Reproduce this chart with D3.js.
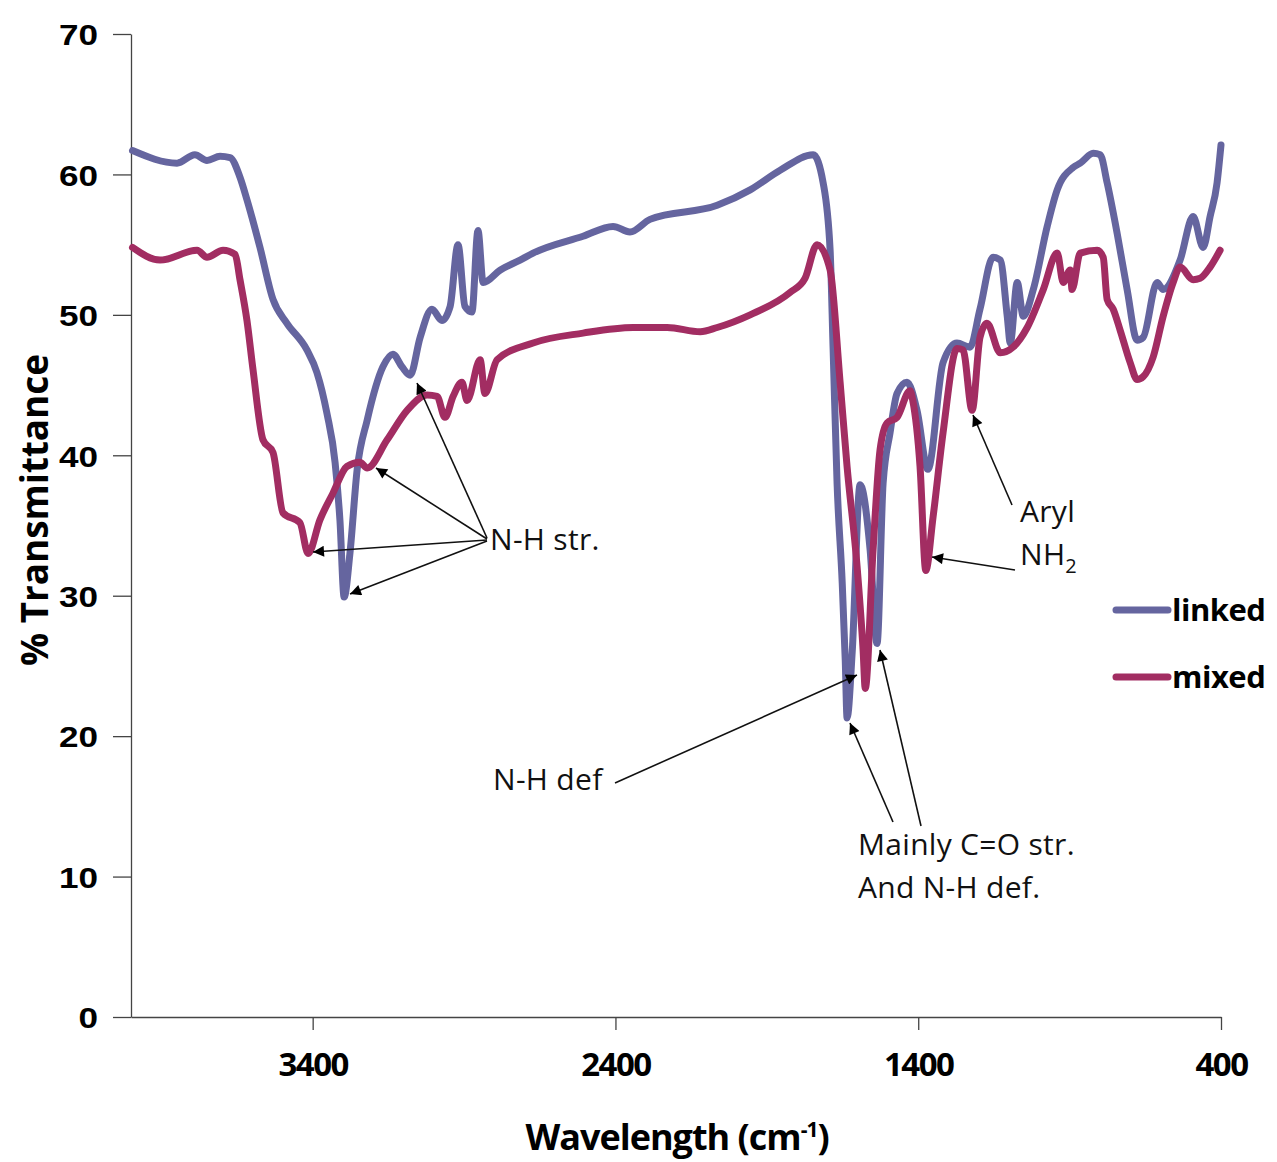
<!DOCTYPE html>
<html><head><meta charset="utf-8">
<script src="https://cdn.jsdelivr.net/npm/d3@7"></script>
<style>body{margin:0;background:#fff}svg{display:block}</style>
</head><body>
<svg id="c" width="1277" height="1162"></svg>
<script>
// ---- data ----
const xTicks = [3400, 2400, 1400, 400];
const yTicks = [0, 10, 20, 30, 40, 50, 60, 70];
const seriesNames = ["linked", "mixed"];
const wnLinked = [3995,3848,3789,3749,3706,3673,3640,3617,3574,3531,3485,3419,3386,3353,3326,3310,3296,3277,3253,3220,3168,3135,3105,3078,3045,3006,2973,2946,2920,2897,2874,2854,2837,2780,2715,2672,2507,2408,2352,2286,2064,1955,1856,1747,1714,1691,1681,1668,1651,1641,1635,1618,1592,1559,1536,1516,1493,1470,1437,1404,1368,1318,1272,1229,1196,1153,1129,1106,1096,1073,1053,1020,974,941,888,865,822,799,776,743,710,677,657,611,591,535,492,459,436,413,400];
const tLinked  = [61.7,60.8,61.4,61.0,61.3,61.2,59.8,58.2,54.8,51.1,49.4,47.5,45.9,43.0,39.5,35.4,29.9,33.0,39.0,42.5,46.3,47.2,46.3,45.7,48.4,50.4,49.6,50.6,55.0,50.6,50.2,56.0,52.3,53.2,53.9,54.4,55.6,56.3,55.9,56.8,57.8,58.9,60.3,61.4,59.4,54.6,47.5,38.0,30.9,25.4,21.3,26.0,37.9,33.3,26.6,38.0,41.6,44.4,45.2,43.2,39.0,46.6,48.0,47.7,50.4,54.1,53.9,49.9,48.0,52.3,49.9,51.8,56.3,58.9,60.5,60.8,61.5,61.4,59.4,55.8,51.8,48.2,48.4,52.3,51.8,53.9,57.0,54.8,57.0,59.4,62.1];
const wnMixed  = [3995,3904,3782,3749,3696,3656,3640,3617,3597,3564,3531,3498,3442,3415,3376,3333,3287,3244,3220,3154,3088,3022,2989,2963,2936,2907,2890,2847,2831,2791,2672,2507,2342,2229,2120,2064,1955,1823,1774,1734,1691,1658,1635,1602,1582,1575,1549,1526,1503,1470,1427,1418,1394,1375,1351,1318,1272,1252,1222,1196,1173,1129,1087,1040,987,941,921,898,892,865,809,789,776,756,733,700,677,657,624,591,558,535,492,469,436,403];
const tMixed   = [54.8,53.9,54.6,54.1,54.6,54.3,52.5,49.6,46.1,41.1,40.2,35.9,35.2,33.0,35.4,37.3,39.2,39.5,39.1,41.1,43.2,44.3,44.2,42.7,44.2,45.2,43.9,46.8,44.4,46.8,48.0,48.7,49.1,49.1,48.8,49.1,50.0,51.6,52.6,55.0,53.2,45.2,39.2,32.1,26.1,23.4,33.3,40.4,42.3,42.7,44.6,43.9,39.2,31.8,35.6,41.6,47.6,47.5,43.2,48.4,49.4,47.3,47.7,49.1,51.8,54.4,52.3,53.2,51.8,54.4,54.6,54.1,51.1,50.4,48.9,46.6,45.4,45.6,47.0,49.9,52.3,53.4,52.5,52.6,53.4,54.6];
const colors = {linked: "#65659f", mixed: "#a22d62"};

// ---- layout ----
const svg = d3.select("#c");
const L = 131, R = 1221, T = 34, B = 1017;
const x = d3.scaleLinear().domain([4000, 400]).range([L, R]);
const y = d3.scaleLinear().domain([0, 70]).range([B, T]);

// axes
const yAxis = svg.append("g").attr("transform", `translate(${L},0)`)
  .call(d3.axisLeft(y).tickValues(yTicks).tickSize(18).tickSizeOuter(0).tickFormat(d3.format("d")));
const xAxis = svg.append("g").attr("transform", `translate(0,${B})`)
  .call(d3.axisBottom(x).tickValues(xTicks).tickSize(13).tickSizeOuter(0).tickFormat(d3.format("d")));
[yAxis, xAxis].forEach(a => {
  a.select(".domain").attr("stroke", "#444").attr("stroke-width", 1.3);
  a.selectAll(".tick line").attr("stroke", "#444").attr("stroke-width", 1.3);
});
yAxis.selectAll(".tick text").attr("x", 0).attr("dy", "0.36em").attr("text-anchor", "end")
  .style("font-family", "'Liberation Sans', Arial, sans-serif").style("font-weight", "bold")
  .style("font-size", "30px").attr("fill", "#000")
  .attr("transform", "translate(-33,0) scale(1.17,1)");
xAxis.selectAll(".tick text").attr("y", 36).attr("dy", "0.71em")
  .style("font-family", "'Open Sans', sans-serif").style("font-weight", "bold")
  .style("font-size", "33px").attr("fill", "#000").attr("letter-spacing", "-1.5px");

// lines
const line = d3.line().x(d => x(d[0])).y(d => y(d[1])).curve(d3.curveMonotoneX);
const linked = wnLinked.map((w, i) => [w, tLinked[i]]);
const mixed = wnMixed.map((w, i) => [w, tMixed[i]]);
[["linked", linked], ["mixed", mixed]].forEach(([n, d]) => {
  svg.append("path").datum(d).attr("d", line).attr("fill", "none")
    .attr("stroke", colors[n]).attr("stroke-width", 7)
    .attr("stroke-linejoin", "round").attr("stroke-linecap", "round");
});

// axis titles
const xt = svg.append("text").attr("x", 677).attr("y", 1150).attr("text-anchor", "middle")
  .style("font-family", "'Open Sans', sans-serif").style("font-weight", "bold")
  .style("font-size", "36px").attr("letter-spacing", "-1px");
xt.append("tspan").text("Wavelength (cm");
xt.append("tspan").text("-1").attr("dy", -13).style("font-size", "21px");
xt.append("tspan").text(")").attr("dy", 13);

svg.append("text").attr("transform", "translate(48,510) rotate(-90)").attr("text-anchor", "middle")
  .style("font-family", "'Open Sans', sans-serif").style("font-weight", "bold")
  .style("font-size", "38px").attr("textLength", 312).attr("lengthAdjust", "spacingAndGlyphs")
  .text("% Transmittance");

// legend
seriesNames.forEach((n, i) => {
  const yy = 610 + i * 67;
  svg.append("line").attr("x1", 1116).attr("x2", 1168).attr("y1", yy).attr("y2", yy)
    .attr("stroke", colors[n]).attr("stroke-width", 7).attr("stroke-linecap", "round");
  svg.append("text").attr("x", 1172).attr("y", yy + 11)
    .style("font-family", "'Open Sans', sans-serif").style("font-weight", "bold")
    .style("font-size", "31px").attr("letter-spacing", "-0.5px").text(n);
});

// annotations
const defs = svg.append("defs");
defs.append("marker").attr("id", "ah").attr("viewBox", "0 0 10 10").attr("refX", 10).attr("refY", 5)
  .attr("markerWidth", 15).attr("markerHeight", 11).attr("markerUnits", "userSpaceOnUse")
  .attr("orient", "auto").append("path").attr("d", "M0,0 L10,5 L0,10 Z").attr("fill", "#000");
const arrows = [
  [487,540,313,552],[487,541,350,594],[487,539,376,468],[487,538,417,383],
  [615,783,857,675],
  [893,822,850,723],[921,826,880,650],
  [1012,505,973,415],[1015,570,932,557]
];
arrows.forEach(a => svg.append("line").attr("x1", a[0]).attr("y1", a[1]).attr("x2", a[2]).attr("y2", a[3])
  .attr("stroke", "#111").attr("stroke-width", 1.6).attr("marker-end", "url(#ah)"));

const labels = [
  ["N-H str.", 490, 550], ["N-H def", 493, 790],
  ["Mainly C=O str.", 858, 855], ["And N-H def.", 858, 898], ["Aryl", 1020, 522]
];
const af = s => s.style("font-family", "'Open Sans', sans-serif").style("font-size", "30px").attr("fill", "#111").attr("letter-spacing", "0.3px");
labels.forEach(l => af(svg.append("text").attr("x", l[1]).attr("y", l[2]).text(l[0])));
const nh = af(svg.append("text").attr("x", 1020).attr("y", 565));
nh.append("tspan").text("NH");
nh.append("tspan").text("2").attr("dy", 8).style("font-size", "20px");
</script>
</body></html>
